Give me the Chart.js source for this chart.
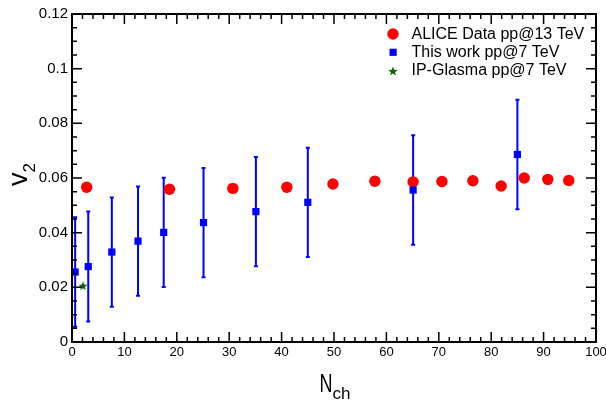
<!DOCTYPE html>
<html>
<head>
<meta charset="utf-8">
<script src="https://cdn.jsdelivr.net/npm/chart.js@4.4.1/dist/chart.umd.min.js"></script>
<style>
    html, body { margin: 0; padding: 0; background: #fff; }
    #wrap { width: 606px; height: 403px; }
</style>
</head>
<body>
<div id="wrap"><canvas id="myChart"></canvas></div>
<script>
const aliceX = [2.8, 18.6, 30.7, 41.0, 49.8, 57.8, 65.1, 70.6, 76.5, 81.9, 86.3, 90.8, 94.8];
const aliceY = [0.0566, 0.0559, 0.0562, 0.0566, 0.0578, 0.0588, 0.0586, 0.0587, 0.0590, 0.0571, 0.0600, 0.0595, 0.0591];
const workX = [0.6, 3.1, 7.6, 12.6, 17.5, 25.1, 35.1, 45.0, 65.1, 85.0];
const workY = [0.0256, 0.0276, 0.0329, 0.0369, 0.0401, 0.0437, 0.0477, 0.0511, 0.0556, 0.0686];
const workErr = [0.0200, 0.0201, 0.0200, 0.0200, 0.0200, 0.0200, 0.0200, 0.0200, 0.0200, 0.0200];
const glasmaX = [2.1];
const glasmaY = [0.0206];
const xTickLabels = ['0', '10', '20', '30', '40', '50', '60', '70', '80', '90', '100'];
const yTickLabels = ['0', '0.02', '0.04', '0.06', '0.08', '0.1', '0.12'];
const legendLabels = ['ALICE Data pp@13 TeV', 'This work pp@7 TeV', 'IP-Glasma pp@7 TeV'];

const FONT = "'Liberation Sans', Arial, Helvetica, sans-serif";
const RED = '#ff0000';
const BLUE = '#0000ff';
const GREEN = '#0a640a';

function starPath(ctx, cx, cy, r) {
    ctx.beginPath();
    for (let i = 0; i < 10; i++) {
        const rad = i % 2 === 0 ? r : r * 0.42;
        const a = -Math.PI / 2 + i * Math.PI / 5;
        const px = cx + rad * Math.cos(a);
        const py = cy + rad * Math.sin(a);
        if (i === 0) ctx.moveTo(px, py); else ctx.lineTo(px, py);
    }
    ctx.closePath();
}

// filled star image used as point style
const starImg = document.createElement('canvas');
starImg.width = 10;
starImg.height = 10;
(function () {
    const c = starImg.getContext('2d');
    c.fillStyle = GREEN;
    starPath(c, 5, 5.4, 4.8);
    c.fill();
})();

function toPoints(xs, ys) {
    return xs.map((x, i) => ({ x: x, y: ys[i] }));
}

// error bars for "This work"
const errorBars = {
    id: 'errorBars',
    beforeDatasetsDraw(chart) {
        const ctx = chart.ctx;
        const xs = chart.scales.x, ys = chart.scales.y;
        ctx.save();
        ctx.strokeStyle = BLUE;
        ctx.lineWidth = 2;
        for (let i = 0; i < workX.length; i++) {
            const px = xs.getPixelForValue(workX[i]);
            const top = ys.getPixelForValue(workY[i] + workErr[i]);
            const bot = ys.getPixelForValue(workY[i] - workErr[i]);
            ctx.beginPath();
            ctx.moveTo(px, top);
            ctx.lineTo(px, bot);
            ctx.moveTo(px - 2, top);
            ctx.lineTo(px + 2, top);
            ctx.moveTo(px - 2, bot);
            ctx.lineTo(px + 2, bot);
            ctx.stroke();
        }
        ctx.restore();
    }
};

// ROOT-like frame, inward ticks, legend and axis titles
const frameDeco = {
    id: 'frameDeco',
    afterDraw(chart) {
        const ctx = chart.ctx;
        const a = chart.chartArea;
        const xs = chart.scales.x, ys = chart.scales.y;
        ctx.save();
        ctx.strokeStyle = '#000';
        ctx.lineWidth = 1.5;
        ctx.beginPath();
        for (let v = 0; v <= 100.001; v += 2) {
            const px = xs.getPixelForValue(v);
            const len = Math.abs(v % 10) < 0.01 ? 10 : 5;
            ctx.moveTo(px, a.bottom);
            ctx.lineTo(px, a.bottom - len);
            ctx.moveTo(px, a.top);
            ctx.lineTo(px, a.top + len);
        }
        for (let k = 0; k <= 24; k++) {
            const py = ys.getPixelForValue(k * 0.005);
            const len = k % 4 === 0 ? 10 : 5;
            ctx.moveTo(a.left, py);
            ctx.lineTo(a.left + len, py);
            ctx.moveTo(a.right, py);
            ctx.lineTo(a.right - len, py);
        }
        ctx.stroke();
        ctx.lineWidth = 2;
        ctx.strokeRect(a.left, a.top, a.right - a.left, a.bottom - a.top);

        // legend
        ctx.fillStyle = RED;
        ctx.beginPath();
        ctx.arc(393, 34, 5.7, 0, Math.PI * 2);
        ctx.fill();
        ctx.fillStyle = BLUE;
        ctx.fillRect(389.5, 48.7, 7.2, 7.2);
        ctx.fillStyle = GREEN;
        starPath(ctx, 393, 71.5, 5);
        ctx.fill();
        ctx.fillStyle = '#000';
        ctx.font = '16px ' + FONT;
        ctx.textBaseline = 'alphabetic';
        ctx.textAlign = 'left';
        ctx.fillText(legendLabels[0], 411.5, 38.5);
        ctx.fillText(legendLabels[1], 411.5, 56.5);
        ctx.fillText(legendLabels[2], 411.5, 75);

        // x title N_ch
        ctx.save();
        ctx.translate(319.5, 392);
        ctx.scale(0.72, 1);
        ctx.font = '25px ' + FONT;
        ctx.fillText('N', 0, 0);
        ctx.restore();
        ctx.font = '17px ' + FONT;
        ctx.fillText('ch', 332.5, 399);

        // y title v_2
        ctx.save();
        ctx.translate(27, 186);
        ctx.rotate(-Math.PI / 2);
        ctx.font = '27px ' + FONT;
        ctx.fillText('v', 0, 0);
        ctx.font = '17px ' + FONT;
        ctx.fillText('2', 13.5, 8);
        ctx.restore();
        ctx.restore();
    }
};

const ctx = document.getElementById('myChart').getContext('2d');
new Chart(ctx, {
    type: 'scatter',
    data: {
        datasets: [
            {
                label: legendLabels[1],
                data: toPoints(workX, workY),
                pointStyle: 'rect',
                pointRadius: 5.1,
                backgroundColor: BLUE,
                borderColor: BLUE,
                borderWidth: 0,
                order: 0
            },
            {
                label: legendLabels[0],
                data: toPoints(aliceX, aliceY),
                pointStyle: 'circle',
                pointRadius: 5.7,
                backgroundColor: RED,
                borderColor: RED,
                borderWidth: 0,
                order: 1
            },
            {
                label: legendLabels[2],
                data: toPoints(glasmaX, glasmaY),
                pointStyle: starImg,
                backgroundColor: GREEN,
                borderColor: GREEN,
                order: 2
            }
        ]
    },
    options: {
        responsive: true,
        maintainAspectRatio: false,
        animation: false,
        devicePixelRatio: 1,
        layout: {
            padding: { left: 0, right: 10, top: 14, bottom: 0 }
        },
        plugins: {
            legend: { display: false },
            tooltip: { enabled: false }
        },
        scales: {
            x: {
                type: 'linear',
                min: 0,
                max: 100,
                grid: { display: false, drawTicks: false },
                border: { display: false },
                ticks: {
                    stepSize: 10,
                    padding: 3,
                    maxRotation: 0,
                    color: '#000',
                    font: { family: FONT, size: 13 },
                    callback: (v, i) => xTickLabels[i]
                },
                afterFit: (scale) => {
                    scale.height = 61;
                    scale.paddingLeft = 0;
                    scale.paddingRight = 0;
                }
            },
            y: {
                type: 'linear',
                min: 0,
                max: 0.12,
                grid: { display: false, drawTicks: false },
                border: { display: false },
                ticks: {
                    stepSize: 0.02,
                    padding: 4,
                    color: '#000',
                    font: { family: FONT, size: 15 },
                    callback: (v, i) => yTickLabels[i]
                },
                afterFit: (scale) => {
                    scale.width = 72;
                    scale.paddingTop = 0;
                    scale.paddingBottom = 0;
                }
            }
        }
    },
    plugins: [errorBars, frameDeco]
});
</script>
</body>
</html>
